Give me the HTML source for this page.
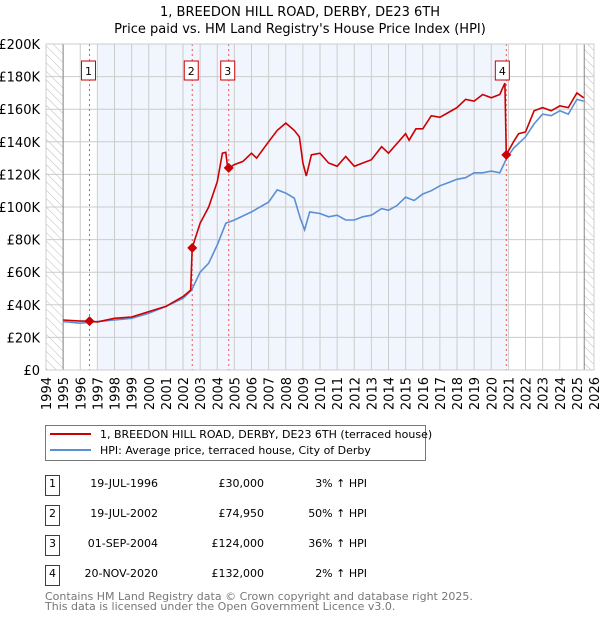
<!DOCTYPE html>
<html><head><meta charset="utf-8">
<style>
body{margin:0;background:#fff;font-family:"DejaVu Sans","Liberation Sans",sans-serif;}
#wrap{position:relative;width:600px;height:620px;overflow:hidden;}
svg text{font-family:"DejaVu Sans","Liberation Sans",sans-serif;}
</style></head>
<body>
<div id="wrap">
<svg id="chart" width="600" height="620">
<defs>
<pattern id="hatch" width="6" height="6" patternUnits="userSpaceOnUse" patternTransform="rotate(-45)">
<line x1="0" y1="0" x2="0" y2="6" stroke="#bbb" stroke-width="1"/></pattern>
</defs>
</svg>
</div>
<script>
const hpiYears=[1995,1996,1997,1998,1999,2000,2001,2002,2002.5,2003,2003.5,2004,2004.5,2005,2006,2007,2007.5,2008,2008.5,2008.85,2009.1,2009.4,2010,2010.5,2011,2011.5,2012,2012.5,2013,2013.6,2014,2014.5,2015,2015.5,2016,2016.5,2017,2017.5,2018,2018.5,2019,2019.5,2020,2020.5,2020.9,2021.3,2022,2022.5,2023,2023.5,2024,2024.5,2025,2025.4];
const hpiValues=[29.7,28.7,29.7,30.7,31.7,34.8,39,44,49,60,65.5,76.8,90,92,97,103,110.5,108.5,105.4,93,86,97,96,94,95,92,92,94,95,99,98,101,106,104,108,110,113,115,117,118,121,121,122,121,130,136,143,151,157,156,159,157,166,165];
const priceYears=[1995,1996,1996.54,1997,1998,1999,2000,2001,2002,2002.45,2002.54,2003,2003.5,2004,2004.3,2004.5,2004.6,2004.67,2005,2005.5,2006,2006.3,2007,2007.5,2008,2008.5,2008.8,2009.0,2009.2,2009.5,2010,2010.5,2011,2011.5,2012,2013,2013.6,2014,2014.5,2015,2015.2,2015.6,2016,2016.5,2017,2017.5,2018,2018.5,2019,2019.5,2020,2020.5,2020.8,2020.88,2021.3,2021.6,2022,2022.5,2023,2023.5,2024,2024.5,2025,2025.4];
const priceValues=[30.7,30,30,29.5,31.7,32.5,35.8,39,45,49,75,90,100,115.6,133,133.5,125,124,126,128,133,130,140,147,151.5,147,143,127,119,132,133,127,125,131,125,129,137,133,139,145,141,148,148,156,155,158,161,166,165,169,167,169,176,132,140,145,146,159,161,159,162,161,170,167];
const saleYears=[1996.54,2002.54,2004.67,2020.88];
const saleValues=[30,74.95,124,132];
const saleLabels=["1","2","3","4"];
const yTicks=[0,20,40,60,80,100,120,140,160,180,200];
const yTickLabels=["£0","£20K","£40K","£60K","£80K","£100K","£120K","£140K","£160K","£180K","£200K"];
const xTicks=[1994,1995,1996,1997,1998,1999,2000,2001,2002,2003,2004,2005,2006,2007,2008,2009,2010,2011,2012,2013,2014,2015,2016,2017,2018,2019,2020,2021,2022,2023,2024,2025,2026];

const NS="http://www.w3.org/2000/svg";
const svg=document.getElementById('chart');
const L=46,R=594,T=44,B=370;
const x=v=>L+(v-1994)/(2026-1994)*(R-L);
const y=v=>B-v/200*(B-T);
function mk(tag,attrs,parent){const e=document.createElementNS(NS,tag);for(const k in attrs)e.setAttribute(k,attrs[k]);(parent||svg).appendChild(e);return e;}

let t=mk('text',{x:300,y:16,'text-anchor':'middle','font-size':13,fill:'#000'});t.textContent="1, BREEDON HILL ROAD, DERBY, DE23 6TH";


t=mk('text',{x:300,y:33,'text-anchor':'middle','font-size':13,fill:'#000'});t.textContent="Price paid vs. HM Land Registry's House Price Index (HPI)";



let r=mk('rect',{x:x(1997),y:T,width:x(saleYears[3])-x(1997),height:B-T,fill:'#f1f5fd'});


r=mk('rect',{x:L,y:T,width:x(1995)-L,height:B-T,fill:'url(#hatch)'});


r=mk('rect',{x:x(2025.43),y:T,width:R-x(2025.43),height:B-T,fill:'url(#hatch)'});



yTicks.forEach((v,i)=>{
  const g=mk('line',{x1:L,x2:R,y1:y(v),y2:y(v),stroke:'#ccc','stroke-width':1});
  
  
  const tl=mk('text',{x:40,y:y(v)+5,'text-anchor':'end','font-size':13,fill:'#000'});tl.textContent=yTickLabels[i];
  
  
});
xTicks.forEach(v=>{
  const g=mk('line',{x1:x(v),x2:x(v),y1:T,y2:B,stroke:'#ccc','stroke-width':1});
  
  
  const tl=mk('text',{x:0,y:0,'text-anchor':'end','font-size':13,fill:'#000',transform:`translate(${x(v)+5},${B+7}) rotate(-90)`});tl.textContent=v;
  
  
});
let ln=mk('line',{x1:x(1995),x2:x(1995),y1:T,y2:B,stroke:'#888'});


ln=mk('line',{x1:x(2025.43),x2:x(2025.43),y1:T,y2:B,stroke:'#888'});



saleYears.forEach((v,i)=>{
  const d=mk('line',{x1:x(v),x2:x(v),y1:T,y2:B,stroke:'#e55','stroke-width':1,'stroke-dasharray':'2,3'});
  
  
});

const path=(xs,vs)=>xs.map((v,i)=>(i?'L':'M')+x(v).toFixed(1)+','+y(vs[i]).toFixed(1)).join('');
let p=mk('path',{d:path(hpiYears,hpiValues),fill:'none',stroke:'#5b8fd4','stroke-width':1.6});


p=mk('path',{d:path(priceYears,priceValues),fill:'none',stroke:'#cc0000','stroke-width':1.6});



saleYears.forEach((v,i)=>{
  const cx=x(v),cy=y(saleValues[i]);
  const d=mk('path',{d:`M${cx},${cy-5}L${cx+5},${cy}L${cx},${cy+5}L${cx-5},${cy}Z`,fill:'#cc0000'});
  
  
  const bx=mk('rect',{x:cx-11,y:61,width:14,height:19,fill:'#fff',stroke:'#cc0000','stroke-width':1});
  if(i<3) bx.setAttribute('x',cx-8);
  
  
  const bl=mk('text',{x:(+bx.getAttribute('x'))+7,y:75,'text-anchor':'middle','font-size':11,fill:'#000'});bl.textContent=saleLabels[i];
  
  
});
let fr=mk('rect',{x:L,y:T,width:R-L,height:B-T,fill:'none',stroke:'#ccc'});



const lg=mk('g',{});


mk('rect',{x:45.5,y:425.5,width:380,height:35,fill:'#fff',stroke:'#777'},lg);
mk('line',{x1:50,x2:91,y1:434,y2:434,stroke:'#cc0000','stroke-width':2},lg);
mk('line',{x1:50,x2:91,y1:450,y2:450,stroke:'#5b8fd4','stroke-width':2},lg);
let lt=mk('text',{x:100,y:438,'font-size':11,fill:'#000'},lg);lt.textContent="1, BREEDON HILL ROAD, DERBY, DE23 6TH (terraced house)";


lt=mk('text',{x:100,y:454,'font-size':11,fill:'#000'},lg);lt.textContent="HPI: Average price, terraced house, City of Derby";



const dates=["19-JUL-1996","19-JUL-2002","01-SEP-2004","20-NOV-2020"];
const prices=["£30,000","£74,950","£124,000","£132,000"];
const pcts=["3% ↑ HPI","50% ↑ HPI","36% ↑ HPI","2% ↑ HPI"];
dates.forEach((d,i)=>{
  const cy=483+i*30;
  const g=mk('g',{});
  
  
  mk('rect',{x:45.5,y:cy-7.5,width:14,height:20,fill:'#fff',stroke:'#cc0000'},g);
  let a=mk('text',{x:52.5,y:cy+4,'text-anchor':'middle','font-size':11},g);a.textContent=saleLabels[i];
  a=mk('text',{x:158,y:cy+4,'text-anchor':'end','font-size':11},g);a.textContent=d;
  a=mk('text',{x:264,y:cy+4,'text-anchor':'end','font-size':11},g);a.textContent=prices[i];
  a=mk('text',{x:367,y:cy+4,'text-anchor':'end','font-size':11},g);a.textContent=pcts[i];
});
let f=mk('text',{x:45,y:600,'font-size':11,fill:'#777'});f.textContent="Contains HM Land Registry data © Crown copyright and database right 2025.";


f=mk('text',{x:45,y:610,'font-size':11,fill:'#777'});f.textContent="This data is licensed under the Open Government Licence v3.0.";


</script>
</body></html>
